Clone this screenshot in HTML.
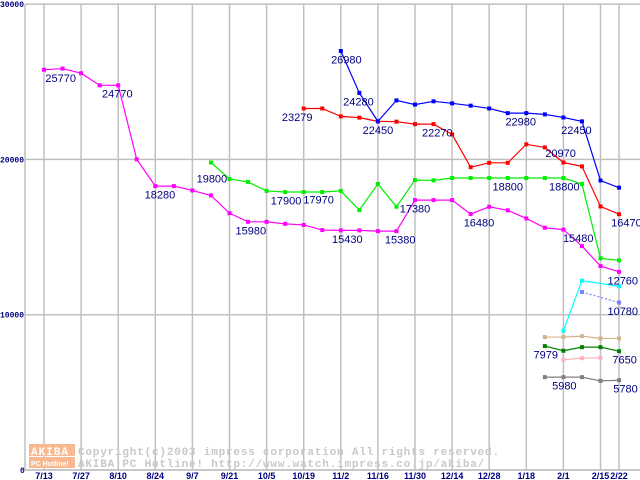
<!DOCTYPE html>
<html><head><meta charset="utf-8"><style>
body{margin:0;background:#fff;width:640px;height:480px;overflow:hidden}
svg{display:block}
.yl{font:bold 8px "Liberation Mono",monospace;fill:#000080}
.xl{font:bold 9px "Liberation Sans",sans-serif;fill:#000080}
.lb{font:11px "Liberation Sans",sans-serif;fill:#000080}
.wm{font:bold 11px "Liberation Mono",monospace;fill:#c8c8c8;letter-spacing:0.8px}
</style></head><body>
<svg id="chart" width="640" height="480" viewBox="0 0 640 480"></svg>
<script>
const xTickLabels=["7/13","7/27","8/10","8/24","9/7","9/21","10/5","10/19","11/2","11/16","11/30","12/14","12/28","1/18","2/1","2/15","2/22"];
const xTickIdx=[0,2,4,6,8,10,12,14,16,18,20,22,24,26,28,30,31];
const yTicks=[0,10000,20000,30000];
const magenta=[25770,25850,25550,24770,24770,20000,18280,18280,18000,17680,16540,15980,15980,15850,15780,15450,15430,15430,15380,15380,17380,17380,17380,16480,16950,16720,16200,15600,15480,14420,13130,12760];
const green=[null,null,null,null,null,null,null,null,null,19800,18740,18550,17970,17900,17900,17900,17970,16740,18420,16950,18670,18650,18800,18800,18800,18800,18800,18800,18800,18420,13630,13500];
const red=[null,null,null,null,null,null,null,null,null,null,null,null,null,null,23279,23279,22770,22690,22450,22430,22270,22270,21610,19500,19780,19780,20970,20770,19800,19550,16970,16470];
const blue=[null,null,null,null,null,null,null,null,null,null,null,null,null,null,null,null,26980,24280,22450,23800,23530,23740,23610,23460,23280,22980,22980,22900,22700,22450,18640,18180];
const cyanIdx=[28,29,31], cyanVal=[8970,12190,11830];
const lblueIdx=[29,31], lblueVal=[11460,10780];
const tanIdx=[27,28,29,30,31], tanVal=[8560,8560,8620,8470,8470];
const dgreenIdx=[27,28,29,30,31], dgreenVal=[7979,7680,7910,7910,7650];
const pinkIdx=[28,29,30], pinkVal=[7100,7200,7230];
const grayIdx=[27,28,29,30,31], grayVal=[5980,5980,5980,5740,5780];
const labelText=["25770","24770","18280","19800","15980","17900","23279","26980","24280","17970","22450","22270","15430","15380","17380","16480","22980","18800","20970","18800","15480","22450","16470","12760","10780","7979","7650","5980","5780"];
const labelIdx=[0.9,3.95,6.25,9.05,11.15,13.05,13.65,16.3,16.95,14.8,18.0,21.2,16.35,19.2,20.0,23.45,25.7,25.0,27.85,28.05,28.8,28.7,31.4,31.2,31.2,27.05,31.3,28.05,31.35];
const labelVal=[24970,23970,17480,18500,15180,17100,22479,26180,23480,17170,21650,21470,14630,14580,16580,15680,22180,18000,20170,18000,14680,21650,15670,11960,9980,7179,6850,5180,4980];

const svg=document.getElementById('chart');
const NS='http://www.w3.org/2000/svg';
const X0=44, DX=18.55, Y0=470, SY=0.01553;
function xs(i){return X0+DX*i;}
function ys(v){return Y0-v*SY;}
function mk(t,a){const e=document.createElementNS(NS,t);for(const k in a)e.setAttribute(k,a[k]);svg.appendChild(e);return e;}

for(let k=0;k<yTicks.length;k++){
  const y=ys(yTicks[k]);
  const g=mk('line',{x1:25,x2:640,y1:y,y2:y,stroke:'#c0c0c0','stroke-width':1.5});
  
  
  const t=mk('text',{x:yTicks[k]===0?20:0,y:y+3,class:'yl'});t.textContent=yTicks[k];
  
  
}
for(let k=0;k<xTickIdx.length;k++){
  const x=xs(xTickIdx[k]);
  const g=mk('line',{x1:x,x2:x,y1:ys(30000),y2:Y0,stroke:'#c0c0c0','stroke-width':1.5});
  
  
  const t=mk('text',{x:x,y:479,class:'xl','text-anchor':'middle'});t.textContent=xTickLabels[k];
  
  
}
const ax=mk('line',{x1:25,x2:25,y1:ys(30000),y2:Y0,stroke:'#c0c0c0','stroke-width':1.5});


const bx=mk('line',{x1:25,x2:640,y1:Y0,y2:Y0,stroke:'#c0c0c0','stroke-width':1.5});



const logo=mk('rect',{x:29,y:444,width:46,height:12,fill:'#f8b890'});


const logo2=mk('rect',{x:29,y:457,width:46,height:11,fill:'#f8b890'});


const lt=mk('text',{x:31,y:455,style:'font:bold 11px "Liberation Mono",monospace;fill:#fff;letter-spacing:1px'});lt.textContent='AKIBA';


const lt2=mk('text',{x:31,y:466,style:'font:bold 7px "Liberation Sans",sans-serif;fill:#fff'});lt2.textContent='PC Hotline!';


const w1=mk('text',{x:78,y:455,class:'wm'});w1.textContent='Copyright(c)2003 impress corporation All rights reserved.';


const w2=mk('text',{x:78,y:467,class:'wm'});w2.textContent='AKIBA PC Hotline!  http://www.watch.impress.co.jp/akiba/';



function series(idx,vals,color,name,dash){
  let d='';
  for(let k=0;k<vals.length;k++){if(vals[k]==null)continue;d+=(d?'L':'M')+xs(idx[k])+' '+ys(vals[k]);}
  const p=mk('path',{d:d,fill:'none',stroke:color,'stroke-width':1.2});
  if(dash)p.setAttribute('stroke-dasharray','2,2');
  
  
  for(let k=0;k<vals.length;k++){if(vals[k]==null)continue;
    const r=mk('rect',{x:xs(idx[k])-2,y:ys(vals[k])-2,width:4,height:4,fill:color});
    
    
  }
}
const full=magenta.map((_,i)=>i);
series(full,magenta,'#ff00ff','magenta-series');
series(full,green,'#00ee00','green-series');
series(full,red,'#ff0000','red-series');
series(full,blue,'#0000ff','blue-series');
series(cyanIdx,cyanVal,'#00ffff','cyan-series',false);
series(lblueIdx,lblueVal,'#8080ff','lightblue-series',true);
series(tanIdx,tanVal,'#d2b48c','tan-series');
series(dgreenIdx,dgreenVal,'#008000','darkgreen-series');
series(pinkIdx,pinkVal,'#ffb0c0','pink-series');
series(grayIdx,grayVal,'#808080','gray-series');

for(let k=0;k<labelText.length;k++){
  const t=mk('text',{x:xs(labelIdx[k]),y:ys(labelVal[k]),class:'lb','text-anchor':'middle'});t.textContent=labelText[k];
  
  
}
</script>
</body></html>
